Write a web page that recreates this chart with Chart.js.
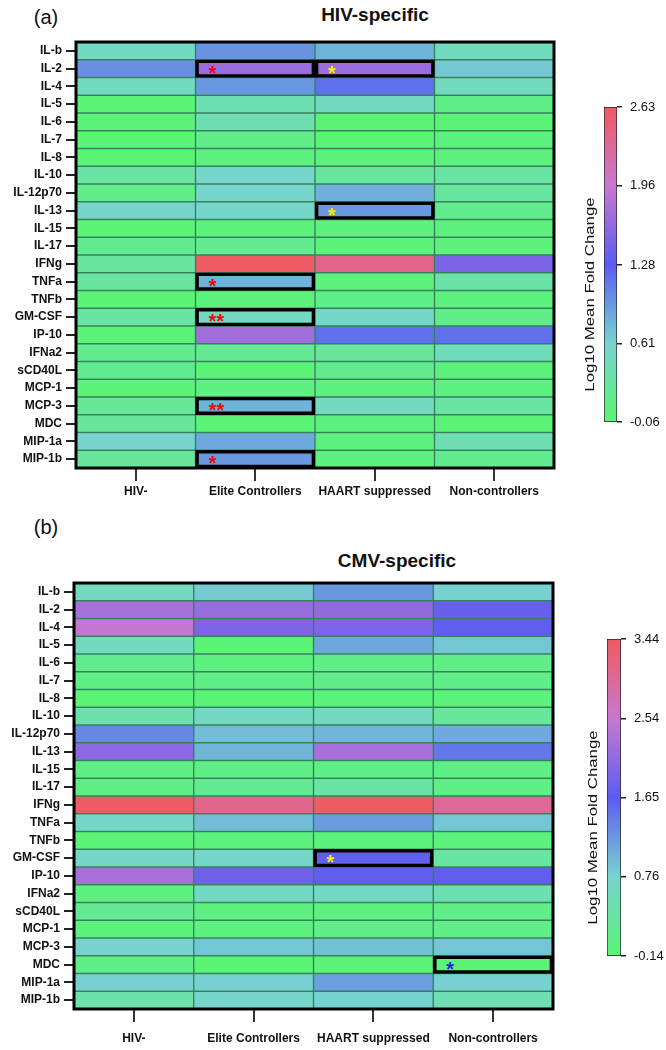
<!DOCTYPE html>
<html>
<head>
<meta charset="utf-8">
<script src="https://cdn.jsdelivr.net/npm/chart.js@4.4.1/dist/chart.umd.min.js"></script>
<style>
  body { margin: 0; background: #fff; }
  #page { position: relative; width: 666px; height: 1050px; overflow: hidden; font-family: 'Liberation Sans', Arial, Helvetica, sans-serif; color: #111; }
  .box { position: absolute; }
  .txt { position: absolute; transform: translate(-50%, -50%); white-space: nowrap; }
</style>
</head>
<body>
<div id="page">
  <div class="txt" style="left:46px;top:17px;font-size:20px;">(a)</div>
  <div class="txt" style="left:375px;top:15px;font-size:19px;font-weight:bold;">HIV-specific</div>
  <div class="box" style="left:0;top:0;width:556px;height:508px;"><canvas id="heatA"></canvas></div>
  <div class="box" style="left:570px;top:60px;width:96px;height:380px;"><canvas id="barA"></canvas></div>

  <div class="txt" style="left:46px;top:527px;font-size:20px;">(b)</div>
  <div class="txt" style="left:397px;top:561px;font-size:19px;font-weight:bold;">CMV-specific</div>
  <div class="box" style="left:0;top:520px;width:555px;height:529px;"><canvas id="heatB"></canvas></div>
  <div class="box" style="left:570px;top:590px;width:96px;height:390px;"><canvas id="barB"></canvas></div>
</div>
<script>
var FONT = "'Liberation Sans', Arial, Helvetica, sans-serif";

var groups = ['HIV-', 'Elite Controllers', 'HAART suppressed', 'Non-controllers'];
var cytokines = ['IL-b', 'IL-2', 'IL-4', 'IL-5', 'IL-6', 'IL-7', 'IL-8', 'IL-10', 'IL-12p70', 'IL-13',
  'IL-15', 'IL-17', 'IFNg', 'TNFa', 'TNFb', 'GM-CSF', 'IP-10', 'IFNa2', 'sCD40L', 'MCP-1',
  'MCP-3', 'MDC', 'MIP-1a', 'MIP-1b'];

// (a) HIV-specific, log10 mean fold change
var hivNegA   = [0.52, 1.00, 0.50, -0.02, -0.02, -0.03, -0.03, 0.30, 0.10, 0.57, -0.03, 0.15, 0.26, 0.26, -0.03, 0.30, -0.03, 0.15, 0.15, -0.02, 0.20, 0.24, 0.60, 0.24];
var eliteA    = [0.98, 1.67, 0.95, 0.38, 0.40, 0.10, 0.03, 0.58, 0.58, 0.57, 0.00, 0.15, 2.60, 0.80, 0.00, 0.52, 1.72, 0.18, -0.03, 0.04, 0.80, -0.03, 0.86, 0.95];
var haartA    = [0.80, 1.67, 1.17, 0.52, -0.03, -0.03, 0.00, 0.25, 0.82, 0.95, 0.02, -0.02, 2.38, 0.02, 0.08, 0.55, 1.17, 0.24, 0.14, 0.03, 0.50, 0.03, 0.02, 0.03];
var nonCtrlA  = [0.48, 0.68, 0.50, 0.08, -0.02, 0.03, 0.02, 0.28, 0.26, 0.14, 0.03, 0.02, 1.48, 0.32, 0.04, 0.10, 1.17, 0.45, 0.00, 0.05, 0.28, -0.02, 0.40, 0.14];
var ticksA = [-0.06, 0.61, 1.28, 1.96, 2.63];
var marksA = [
  ['Elite Controllers', 'IL-2', '*', '#ff0000'],
  ['HAART suppressed', 'IL-2', '*', '#ffee00'],
  ['HAART suppressed', 'IL-13', '*', '#ffee00'],
  ['Elite Controllers', 'TNFa', '*', '#ff0000'],
  ['Elite Controllers', 'GM-CSF', '**', '#ff0000'],
  ['Elite Controllers', 'MCP-3', '**', '#ff0000'],
  ['Elite Controllers', 'MIP-1b', '*', '#ff0000']
];

// (b) CMV-specific, log10 mean fold change
var hivNegB   = [0.61, 2.27, 2.52, 0.60, 0.15, 0.02, -0.08, 0.40, 1.32, 2.05, 0.04, 0.02, 3.40, 0.70, -0.08, 0.66, 2.27, 0.00, 0.18, -0.05, 0.76, 0.05, 0.78, 0.40];
var eliteB    = [0.82, 2.15, 1.94, -0.10, 0.00, 0.06, -0.08, 0.65, 0.93, 0.98, 0.04, 0.16, 3.08, 0.93, -0.06, 0.68, 1.80, 0.62, 0.00, 0.00, 0.86, -0.13, 0.78, 0.72];
var haartB    = [1.20, 2.09, 1.94, 1.09, 0.08, 0.10, -0.06, 0.58, 0.98, 2.27, 0.05, 0.33, 3.42, 1.17, -0.05, 1.70, 1.68, 0.62, 0.00, 0.06, 0.90, -0.08, 1.15, 0.78];
var nonCtrlB  = [0.78, 1.75, 1.68, 0.86, 0.06, 0.05, -0.05, 0.24, 1.07, 1.44, 0.04, 0.02, 2.99, 0.86, -0.06, 0.30, 1.68, 0.45, 0.06, 0.06, 0.86, -0.10, 0.78, 0.48];
var ticksB = [-0.14, 0.76, 1.65, 2.54, 3.44];
var marksB = [
  ['HAART suppressed', 'GM-CSF', '*', '#ffee00'],
  ['Non-controllers', 'MDC', '*', '#1a1aff']
];

var stops = [[90, 245, 115], [120, 212, 208], [92, 92, 240], [200, 120, 208], [240, 90, 96]];

function rgb(c) { return 'rgb(' + c.map(Math.round).join(',') + ')'; }

function colorFor(v, lo, hi) {
  var t = Math.max(0, Math.min(1, (v - lo) / (hi - lo)));
  var p = t * 4;
  var i = Math.min(3, Math.floor(p));
  var f = p - i;
  var a = stops[i], b = stops[i + 1];
  return rgb([a[0] + (b[0] - a[0]) * f, a[1] + (b[1] - a[1]) * f, a[2] + (b[2] - a[2]) * f]);
}

var boldTick = { family: FONT, size: 12, weight: 'bold' };

function makeHeatmap(id, cols, ticks, marks, padTop, axisW, labelPad) {
  var lo = ticks[0], hi = ticks[ticks.length - 1];
  var datasets = groups.map(function(g, gi) {
    return {
      label: g,
      data: cytokines.map(function() { return [gi, gi + 1]; }),
      backgroundColor: cols[gi].map(function(v) { return colorFor(v, lo, hi); }),
      borderColor: 'rgba(0,60,30,0.2)',
      borderWidth: 1,
      borderSkipped: false,
      grouped: false,
      barPercentage: 1,
      categoryPercentage: 1,
      order: 1
    };
  });
  groups.forEach(function(g, gi) {
    datasets.push({
      label: g + ' sig',
      data: cytokines.map(function(c) {
        var hit = marks.some(function(m) { return m[0] === g && m[1] === c; });
        return hit ? [gi, gi + 1] : null;
      }),
      backgroundColor: 'rgba(0,0,0,0)',
      borderColor: '#000',
      borderWidth: 3,
      borderSkipped: false,
      grouped: false,
      barPercentage: 1,
      categoryPercentage: 1,
      order: 0
    });
  });

  var overlay = {
    id: 'overlay',
    beforeDatasetsDraw: function(chart) {
      var ctx = chart.ctx, a = chart.chartArea;
      ctx.save();
      ctx.fillStyle = 'rgb(70,150,110)';
      ctx.fillRect(a.left, a.top, a.right - a.left, a.bottom - a.top);
      ctx.restore();
    },
    afterDatasetsDraw: function(chart) {
      var ctx = chart.ctx, a = chart.chartArea;
      ctx.save();
      ctx.font = 'bold 20px ' + FONT;
      ctx.textAlign = 'left';
      ctx.textBaseline = 'alphabetic';
      marks.forEach(function(m) {
        var gi = groups.indexOf(m[0]);
        var ri = cytokines.indexOf(m[1]);
        var el = chart.getDatasetMeta(groups.length + gi).data[ri];
        var left = Math.min(el.x, el.base);
        ctx.fillStyle = m[3];
        ctx.fillText(m[2], left + 13, el.y + 11);
      });
      ctx.lineWidth = 3;
      ctx.strokeStyle = '#000';
      ctx.strokeRect(a.left, a.top, a.right - a.left, a.bottom - a.top);
      ctx.restore();
    }
  };

  return new Chart(document.getElementById(id), {
    type: 'bar',
    data: { labels: cytokines, datasets: datasets },
    plugins: [overlay],
    options: {
      indexAxis: 'y',
      responsive: true,
      maintainAspectRatio: false,
      animation: false,
      layout: { padding: { top: padTop, right: 2, left: 0, bottom: 0 } },
      plugins: { legend: { display: false }, tooltip: { enabled: false }, title: { display: false } },
      scales: {
        x: {
          type: 'linear', min: 0, max: 4,
          afterBuildTicks: function(ax) { ax.ticks = groups.map(function(g, i) { return { value: i + 0.5 }; }); },
          afterFit: function(ax) { ax.height = 40; },
          ticks: { callback: function(v, i) { return groups[i]; }, font: boldTick, color: '#111', padding: labelPad, maxRotation: 0, autoSkip: false },
          grid: { drawOnChartArea: false, tickLength: 13, color: '#333', lineWidth: 2 },
          border: { display: false }
        },
        y: {
          type: 'category',
          afterFit: function(ax) { ax.width = axisW; },
          ticks: { font: boldTick, color: '#111', padding: 4, autoSkip: false },
          grid: { drawOnChartArea: false, offset: false, tickLength: 10, color: '#222', lineWidth: 2 },
          border: { display: false }
        }
      }
    }
  });
}

function makeColorbar(id, ticks, padL, padT, padB, axisW) {
  var lo = ticks[0], hi = ticks[ticks.length - 1];
  var label = {
    id: 'cbLabel',
    afterDraw: function(chart) {
      var ctx = chart.ctx, a = chart.chartArea;
      ctx.save();
      ctx.translate(a.left - 13, (a.top + a.bottom) / 2 + 30);
      ctx.rotate(-Math.PI / 2);
      ctx.scale(1.4, 1);
      ctx.font = '12px ' + FONT;
      ctx.fillStyle = '#111';
      ctx.textAlign = 'center';
      ctx.textBaseline = 'middle';
      ctx.fillText('Log10 Mean Fold Change', 0, 0);
      ctx.restore();
    }
  };
  return new Chart(document.getElementById(id), {
    type: 'bar',
    data: {
      labels: [''],
      datasets: [{
        data: [[lo, hi]],
        backgroundColor: function(c) {
          var a = c.chart.chartArea;
          if (!a) return '#888';
          var g = c.chart.ctx.createLinearGradient(0, a.bottom, 0, a.top);
          stops.forEach(function(s, i) { g.addColorStop(i / (stops.length - 1), rgb(s)); });
          return g;
        },
        borderColor: '#222',
        borderWidth: 1,
        borderSkipped: false,
        barPercentage: 1,
        categoryPercentage: 1
      }]
    },
    plugins: [label],
    options: {
      responsive: true,
      maintainAspectRatio: false,
      animation: false,
      layout: { padding: { left: padL, top: padT, bottom: padB, right: 0 } },
      plugins: { legend: { display: false }, tooltip: { enabled: false } },
      scales: {
        x: { display: false },
        y: {
          position: 'right', min: lo, max: hi,
          afterBuildTicks: function(ax) { ax.ticks = ticks.map(function(v) { return { value: v }; }); },
          afterFit: function(ax) { ax.width = axisW; },
          ticks: { callback: function(v) { return v.toFixed(2); }, font: { family: FONT, size: 13 }, color: '#111', padding: 8 },
          grid: { drawOnChartArea: false, tickLength: 5, color: '#222', lineWidth: 1.5 },
          border: { display: false }
        }
      }
    }
  });
}

makeHeatmap('heatA', [hivNegA, eliteA, haartA, nonCtrlA], ticksA, marksA, 42, 76, 3);
makeHeatmap('heatB', [hivNegB, eliteB, haartB, nonCtrlB], ticksB, marksB, 63, 74, 9);
makeColorbar('barA', ticksA, 34, 47, 18, 49);
makeColorbar('barB', ticksB, 37, 49, 24, 45);
</script>
</body>
</html>
